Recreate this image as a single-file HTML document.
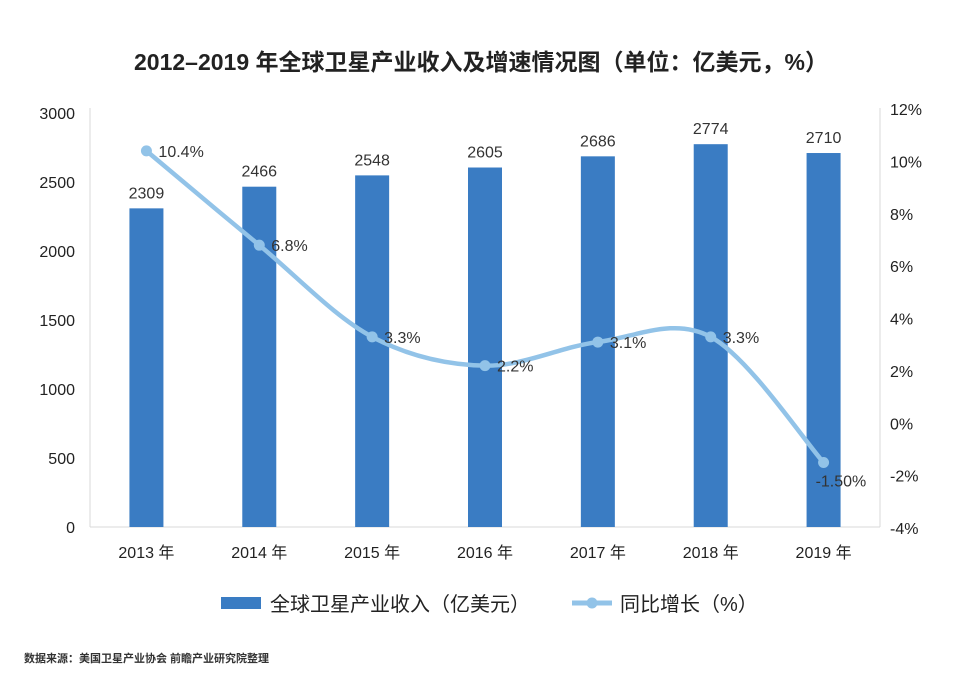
<!DOCTYPE html>
<html><head><meta charset="utf-8"><style>
body{margin:0;background:#fff;}
svg text{font-family:"Liberation Sans","Noto Sans CJK SC",sans-serif;}
</style></head><body>
<svg width="972" height="690" viewBox="0 0 972 690" xmlns="http://www.w3.org/2000/svg">
<text x="481" y="70" text-anchor="middle" font-size="23" font-weight="bold" fill="#222">2012–2019 年全球卫星产业收入及增速情况图（单位：亿美元，%）</text>
<g id="axes"></g>
<g id="bars"></g>
<g id="line"></g>
<g>
<rect x="221" y="597" width="40" height="12" fill="#3a7cc3"/>
<text x="270" y="611" font-size="20" fill="#222">全球卫星产业收入（亿美元）</text>
<line x1="572" y1="603" x2="612" y2="603" stroke="#92c3e8" stroke-width="5"/>
<circle cx="592" cy="603" r="5.5" fill="#92c3e8"/>
<text x="620" y="611" font-size="20" fill="#222">同比增长（%）</text>
</g>
<text x="24" y="662" font-size="11" font-weight="bold" fill="#333">数据来源：美国卫星产业协会 前瞻产业研究院整理</text>
</svg>
<script>
const categories=["2013 年","2014 年","2015 年","2016 年","2017 年","2018 年","2019 年"];
const revenue=[2309,2466,2548,2605,2686,2774,2710];
const growth=[10.4,6.8,3.3,2.2,3.1,3.3,-1.5];
const growthLabels=["10.4%","6.8%","3.3%","2.2%","3.1%","3.3%","-1.50%"];
const leftTicks=[0,500,1000,1500,2000,2500,3000];
const rightTicks=[-4,-2,0,2,4,6,8,10,12];
const NS="http://www.w3.org/2000/svg";
const x0=90,x1=880,yL0=527,yL1=113;
const xs=i=>x0+(i+0.5)*(x1-x0)/categories.length;
const yl=v=>yL0+(yL1-yL0)*v/3000;
const yr=v=>528+(109-528)*(v+4)/16;
function mk(t,a,p){const e=document.createElementNS(NS,t);for(const k in a)e.setAttribute(k,a[k]);p.appendChild(e);return e;}
const ax=document.getElementById('axes');
let l=mk('line',{x1:x0,y1:yL1-5,x2:x0,y2:yL0,stroke:'#d9d9d9'},ax);


l=mk('line',{x1:x1,y1:yL1-5,x2:x1,y2:yL0,stroke:'#d9d9d9'},ax);


l=mk('line',{x1:x0,y1:yL0,x2:x1,y2:yL0,stroke:'#d9d9d9'},ax);


leftTicks.forEach(v=>{const t=mk('text',{x:75,y:yl(v)+6,'text-anchor':'end','font-size':16,fill:'#222'},ax);t.textContent=v;

});
rightTicks.forEach(v=>{const t=mk('text',{x:890,y:yr(v)+6,'font-size':16,fill:'#222'},ax);t.textContent=v+'%';

});
categories.forEach((c,i)=>{const t=mk('text',{x:xs(i),y:558,'text-anchor':'middle','font-size':16,fill:'#222'},ax);t.textContent=c;

});
const bg=document.getElementById('bars');
revenue.forEach((v,i)=>{const r=mk('rect',{x:xs(i)-17,y:yl(v),width:34,height:yL0-yl(v),fill:'#3a7cc3'},bg);


const t=mk('text',{x:xs(i),y:yl(v)-10,'text-anchor':'middle','font-size':16,fill:'#333'},bg);t.textContent=v;

});
const lg=document.getElementById('line');
const P=growth.map((g,i)=>[xs(i),yr(g)]);
let d='M'+P[0][0]+','+P[0][1];
for(let i=0;i<P.length-1;i++){const p0=P[Math.max(0,i-1)],p1=P[i],p2=P[i+1],p3=P[Math.min(P.length-1,i+2)];
d+=' C'+(p1[0]+(p2[0]-p0[0])/6)+','+(p1[1]+(p2[1]-p0[1])/6)+' '+(p2[0]-(p3[0]-p1[0])/6)+','+(p2[1]-(p3[1]-p1[1])/6)+' '+p2[0]+','+p2[1];}
const path=mk('path',{d:d,fill:'none',stroke:'#92c3e8','stroke-width':4.5},lg);


P.forEach((p,i)=>{const c=mk('circle',{cx:p[0],cy:p[1],r:5.5,fill:'#92c3e8'},lg);


const t=mk('text',{x:p[0]+(i==6?-8:12),y:p[1]+(i==6?24:6),'font-size':16,fill:'#333'},lg);t.textContent=growthLabels[i];

});
</script>
</body></html>
